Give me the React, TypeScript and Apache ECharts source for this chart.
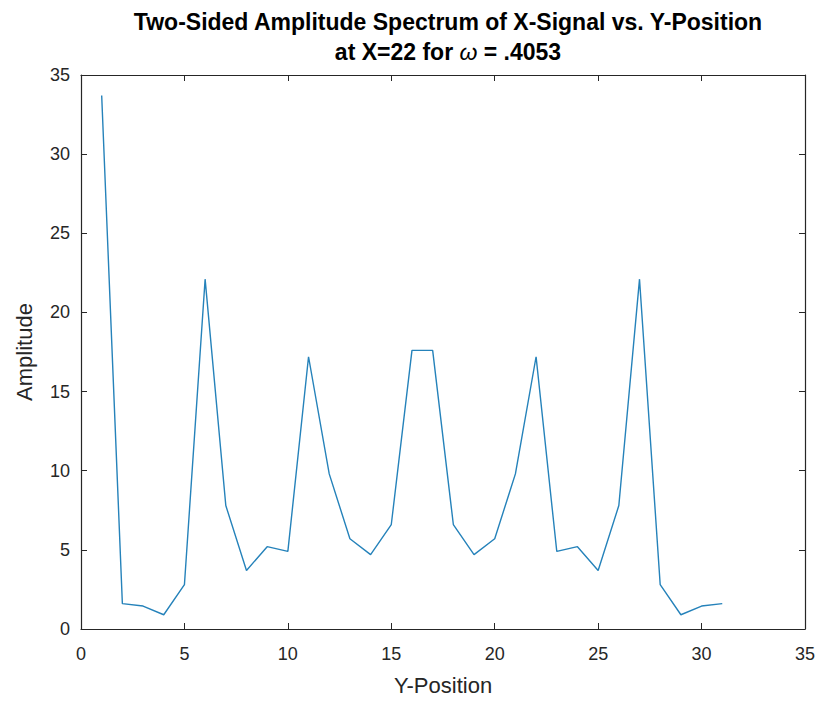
import React, { useEffect, useRef } from "react";
import * as echarts from "echarts";

const positions = [1,2,3,4,5,6,7,8,9,10,11,12,13,14,15,16,17,18,19,20,21,22,23,24,25,26,27,28,29,30,31];
const amplitudes = [33.7,1.6,1.45,0.9,2.8,22.1,7.8,3.7,5.2,4.9,17.2,9.8,5.7,4.7,6.6,17.6,17.6,6.6,4.7,5.7,9.8,17.2,4.9,5.2,3.7,7.8,22.1,2.8,0.9,1.45,1.6];
const titleLine1 = "Two-Sided Amplitude Spectrum of X-Signal vs. Y-Position";
const titleLine2Pre = "at X=22 for ";
const titleLine2Post = " = .4053";

export default function App() {
  const ref = useRef<HTMLDivElement>(null);
  useEffect(() => {
    if (!ref.current) return;
    const chart = echarts.init(ref.current, null, { renderer: "svg" });
    const font = "Liberation Sans, Arial, sans-serif";
    const axisColor = "#262626";
    const data = positions.map((p, i) => [p, amplitudes[i]]);
    const tickStyle = { show: true, inside: true, length: 6, lineStyle: { color: axisColor, width: 1 } };
    chart.setOption({
      animation: false,
      backgroundColor: "#ffffff",
      title: {
        text: titleLine1 + "\n" + titleLine2Pre + "{i|ω}" + titleLine2Post,
        left: 443,
        textAlign: "center",
        top: 2,
        textStyle: {
          fontFamily: font,
          fontSize: 23,
          fontWeight: "bold",
          color: "#000",
          lineHeight: 30,
          rich: {
            i: { fontFamily: font, fontSize: 23, fontStyle: "italic", fontWeight: "normal", color: "#000", lineHeight: 30 },
          },
        },
      },
      grid: { left: 81, right: 14, top: 75, bottom: 73, show: false },
      xAxis: [
        {
          type: "value",
          min: 0,
          max: 35,
          interval: 5,
          name: "Y-Position",
          nameLocation: "middle",
          nameGap: 45,
          nameTextStyle: { fontFamily: font, fontSize: 22, color: axisColor },
          axisLine: { show: true, onZero: false, lineStyle: { color: axisColor, width: 1.2 } },
          axisTick: tickStyle,
          axisLabel: { fontFamily: font, fontSize: 18, color: axisColor, margin: 16 },
          splitLine: { show: false },
        },
        {
          type: "value",
          position: "top",
          min: 0,
          max: 35,
          interval: 5,
          axisLine: { show: true, onZero: false, lineStyle: { color: axisColor, width: 1.2 } },
          axisTick: tickStyle,
          axisLabel: { show: false },
          splitLine: { show: false },
        },
      ],
      yAxis: [
        {
          type: "value",
          min: 0,
          max: 35,
          interval: 5,
          name: "Amplitude",
          nameLocation: "middle",
          nameGap: 46,
          nameTextStyle: { fontFamily: font, fontSize: 22, color: axisColor },
          axisLine: { show: true, onZero: false, lineStyle: { color: axisColor, width: 1.2 } },
          axisTick: tickStyle,
          axisLabel: { fontFamily: font, fontSize: 18, color: axisColor, margin: 11 },
          splitLine: { show: false },
        },
        {
          type: "value",
          position: "right",
          min: 0,
          max: 35,
          interval: 5,
          axisLine: { show: true, onZero: false, lineStyle: { color: axisColor, width: 1.2 } },
          axisTick: tickStyle,
          axisLabel: { show: false },
          splitLine: { show: false },
        },
      ],
      series: [
        {
          type: "line",
          data,
          showSymbol: false,
          symbol: "none",
          lineStyle: { color: "#2582ba", width: 1.4 },
          xAxisIndex: 0,
          yAxisIndex: 0,
        },
      ],
    });
    return () => chart.dispose();
  }, []);
  return <div ref={ref} style={{ width: 819, height: 702, position: "absolute", left: 0, top: 0 }} />;
}
